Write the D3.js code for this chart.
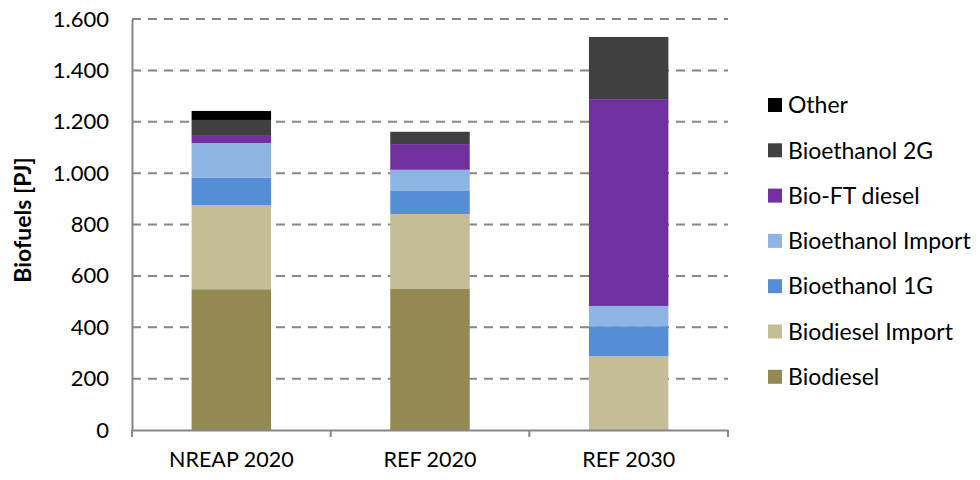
<!DOCTYPE html>
<html><head><meta charset="utf-8">
<script src="https://cdn.jsdelivr.net/npm/d3@7/dist/d3.min.js"></script>
<style>body{margin:0;background:#fff}svg{display:block}text{font-family:Lato,"Open Sans",sans-serif;fill:#000}</style>
</head><body><svg id="c" width="980" height="480"></svg>
<script>
const categories = ["NREAP 2020", "REF 2020", "REF 2030"];
const seriesNames = ["Biodiesel", "Biodiesel Import", "Bioethanol 1G", "Bioethanol Import", "Bio-FT diesel", "Bioethanol 2G", "Other"];
const biodiesel        = [548, 551, 0];
const biodieselImport  = [328, 290, 287];
const bioethanol1G     = [107, 92, 117];
const bioethanolImport = [134, 80, 79];
const bioFTdiesel      = [28, 100, 805];
const bioethanol2G     = [62, 48, 242];
const other            = [35, 0, 0];
const seriesColors = ["#938953", "#C4BD97", "#558ED5", "#8EB4E3", "#7030A0", "#404040", "#000000"];
const yTicks = [0, 200, 400, 600, 800, 1000, 1200, 1400, 1600];
const yTickLabels = ["0", "200", "400", "600", "800", "1.000", "1.200", "1.400", "1.600"];
const yTitle = "Biofuels [PJ]";

const seriesValues = [biodiesel, biodieselImport, bioethanol1G, bioethanolImport, bioFTdiesel, bioethanol2G, other];
const rows = categories.map((c, i) => {
  const r = {cat: c};
  seriesNames.forEach((s, j) => r[s] = seriesValues[j][i]);
  return r;
});
const stacked = d3.stack().keys(seriesNames)(rows);

const svg = d3.select("#c");
const L = 132, R = 728, T = 19, B = 430;
const x = d3.scaleBand().domain(categories).range([L, R]).paddingInner(0.6).paddingOuter(0.3);
const xb = d3.scaleBand().domain(categories).range([L, R]);
const y = d3.scaleLinear().domain([0, 1600]).range([B, T]);
const grey = "#868686";

// gridlines
svg.append("g").selectAll("line").data(yTicks.filter(t => t > 0)).join("line")
  .attr("x1", L).attr("x2", R).attr("y1", d => y(d)).attr("y2", d => y(d))
  .attr("stroke", grey).attr("stroke-width", 2).attr("stroke-dasharray", "9,7");

// bars
svg.append("g").selectAll("g").data(stacked).join("g")
  .attr("fill", (d, i) => seriesColors[i])
  .selectAll("rect").data(d => d).join("rect")
  .attr("x", d => x(d.data.cat)).attr("width", x.bandwidth())
  .attr("y", d => y(d[1])).attr("height", d => y(d[0]) - y(d[1]));

// y axis
const yAxis = svg.append("g").attr("transform", `translate(${L},0)`)
  .call(d3.axisLeft(y).tickValues(yTicks).tickFormat((d, i) => yTickLabels[i]).tickSize(0).tickPadding(23));
yAxis.select(".domain").attr("stroke", grey).attr("stroke-width", 2);
yAxis.selectAll("text").attr("font-size", 22).attr("font-family", "Lato, sans-serif").attr("fill", "#000");

// x axis
const xAxis = svg.append("g").attr("transform", `translate(0,${B})`)
  .call(d3.axisBottom(xb).tickSize(0).tickPadding(22));
xAxis.select(".domain").attr("stroke", grey).attr("stroke-width", 2);
xAxis.selectAll("text").attr("font-size", 21.5).attr("font-family", "Lato, sans-serif").attr("fill", "#000");
const boundaries = [L].concat(categories.map(c => xb(c) + xb.bandwidth()));
svg.append("g").selectAll("line").data(boundaries).join("line")
  .attr("x1", d => d).attr("x2", d => d).attr("y1", B).attr("y2", B + 7)
  .attr("stroke", grey).attr("stroke-width", 2);

// y title
svg.append("text").attr("transform", `translate(31,220) rotate(-90)`)
  .attr("text-anchor", "middle").attr("font-size", 23).attr("font-weight", "bold").text(yTitle);

// legend
const legendOrder = seriesNames.slice().reverse();
const lg = svg.append("g").selectAll("g").data(legendOrder).join("g")
  .attr("transform", (d, i) => `translate(768,${105 + i * 45.3})`);
lg.append("rect").attr("x", 0).attr("y", -7).attr("width", 14).attr("height", 14)
  .attr("fill", d => seriesColors[seriesNames.indexOf(d)]);
lg.append("text").attr("x", 20).attr("dy", "0.36em").attr("font-size", 23).text(d => d);
</script></body></html>
